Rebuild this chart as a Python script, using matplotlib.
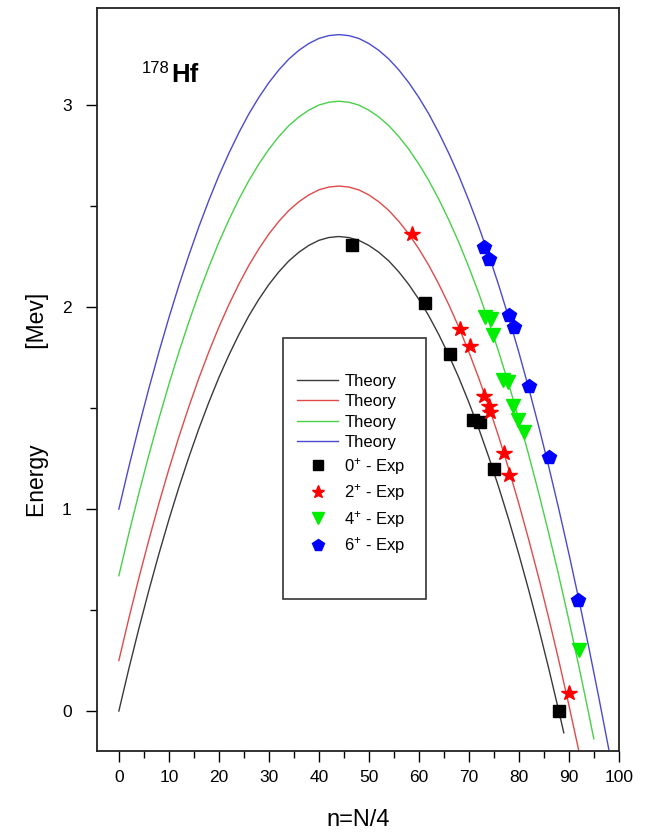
import matplotlib
matplotlib.use("Agg")
import matplotlib.pyplot as plt
from matplotlib.patches import Rectangle
from matplotlib.ticker import MultipleLocator

plt.rcParams['font.family'] = ['Liberation Sans', 'DejaVu Sans']
plt.rcParams['mathtext.fontset'] = 'custom'
plt.rcParams['mathtext.rm'] = 'Liberation Sans'
plt.rcParams['mathtext.it'] = 'Liberation Sans'

# Theory curves (band heads vs. n = N/4), sampled every 2 units of n
n_black = list(range(0, 90, 2)) + [89]
e_black = [0.000, 0.209, 0.408, 0.597, 0.777, 0.947, 1.107, 1.257, 1.398, 1.529, 1.651, 1.762,
           1.864, 1.957, 2.039, 2.112, 2.175, 2.229, 2.272, 2.306, 2.331, 2.345, 2.350,
           2.345, 2.331, 2.306, 2.272, 2.229, 2.175, 2.112, 2.039, 1.957, 1.864, 1.762,
           1.651, 1.529, 1.398, 1.257, 1.107, 0.947, 0.777, 0.597, 0.408, 0.209, 0.000, -0.108]

n_red = list(range(0, 94, 2))
e_red = [0.250, 0.459, 0.658, 0.847, 1.027, 1.197, 1.357, 1.507, 1.648, 1.779, 1.901, 2.012,
         2.114, 2.207, 2.289, 2.362, 2.425, 2.479, 2.522, 2.556, 2.581, 2.595, 2.600,
         2.595, 2.581, 2.556, 2.522, 2.479, 2.425, 2.362, 2.289, 2.207, 2.114, 2.012,
         1.901, 1.779, 1.648, 1.507, 1.357, 1.197, 1.027, 0.847, 0.658, 0.459, 0.250,
         0.031, -0.197]

n_green = list(range(0, 96, 2)) + [95]
e_green = [0.670, 0.879, 1.078, 1.267, 1.447, 1.617, 1.777, 1.927, 2.068, 2.199, 2.321, 2.432,
           2.534, 2.627, 2.709, 2.782, 2.845, 2.899, 2.942, 2.976, 3.001, 3.015, 3.020,
           3.015, 3.001, 2.976, 2.942, 2.899, 2.845, 2.782, 2.709, 2.627, 2.534, 2.432,
           2.321, 2.199, 2.068, 1.927, 1.777, 1.617, 1.447, 1.267, 1.078, 0.879, 0.670,
           0.451, 0.223, -0.015, -0.138]

n_blue = list(range(0, 98, 2)) + [98]
e_blue = [1.000, 1.209, 1.408, 1.597, 1.777, 1.947, 2.107, 2.257, 2.398, 2.529, 2.651, 2.762,
          2.864, 2.957, 3.039, 3.112, 3.175, 3.229, 3.272, 3.306, 3.331, 3.345, 3.350,
          3.345, 3.331, 3.306, 3.272, 3.229, 3.175, 3.112, 3.039, 2.957, 2.864, 2.762,
          2.651, 2.529, 2.398, 2.257, 2.107, 1.947, 1.777, 1.597, 1.408, 1.209, 1.000,
          0.781, 0.553, 0.315, 0.067, -0.190]

# Experimental levels
n_exp0 = [46.6, 61.2, 66.2, 70.9, 72.3, 75.1, 88.0]
e_exp0 = [2.31, 2.02, 1.77, 1.44, 1.43, 1.20, 0.00]

n_exp2 = [58.7, 68.2, 70.2, 73.0, 74.0, 74.3, 77.0, 78.1, 90.0]
e_exp2 = [2.36, 1.89, 1.81, 1.56, 1.51, 1.48, 1.28, 1.17, 0.09]

n_exp4 = [73.2, 74.5, 74.9, 76.9, 77.9, 78.9, 79.9, 81.1, 92.1]
e_exp4 = [1.95, 1.94, 1.86, 1.64, 1.63, 1.51, 1.44, 1.38, 0.30]

n_exp6 = [73.0, 74.1, 78.1, 79.0, 82.1, 86.1, 91.9]
e_exp6 = [2.30, 2.24, 1.96, 1.90, 1.61, 1.26, 0.55]

x_ticks = [0, 10, 20, 30, 40, 50, 60, 70, 80, 90, 100]
y_ticks = [0, 1, 2, 3]

fig = plt.figure(figsize=(6.5, 8.36), dpi=100)
ax = fig.add_axes([0.149, 0.1017, 0.803, 0.8883])

ax.plot(n_black, e_black, color='#3a3a3a', lw=1.0, label='Theory')
ax.plot(n_red, e_red, color='#e04a4a', lw=1.0, label='Theory')
ax.plot(n_green, e_green, color='#48d048', lw=1.0, label='Theory')
ax.plot(n_blue, e_blue, color='#4a4ad0', lw=1.0, label='Theory')

ax.plot(n_exp0, e_exp0, ls='none', marker='s', ms=8, color='black', label='0$^{+}$ - Exp')
ax.plot(n_exp2, e_exp2, ls='none', marker='*', ms=11.5, color='#ff0000', label='2$^{+}$ - Exp')
ax.plot(n_exp4, e_exp4, ls='none', marker='v', ms=10, color='#00ee00', label='4$^{+}$ - Exp')
ax.plot(n_exp6, e_exp6, ls='none', marker='p', ms=10, color='#0000ff', label='6$^{+}$ - Exp')

ax.set_xlim(-4.4, 100)
ax.set_ylim(-0.198, 3.48)
ax.set_xticks(x_ticks)
ax.set_yticks(y_ticks)
ax.xaxis.set_minor_locator(MultipleLocator(5))
ax.yaxis.set_minor_locator(MultipleLocator(0.5))
ax.tick_params(which='major', direction='out', length=8, width=1.0, labelsize=12.5, pad=6)
ax.tick_params(which='minor', direction='out', length=5, width=1.0)
ax.tick_params(axis='y', which='major', pad=10)
for s in ax.spines.values():
    s.set_linewidth(1.3)
    s.set_color('#222222')

ax.set_xlabel('n=N/4', fontsize=17, labelpad=17)
ax.set_ylabel('Energy' + ' ' * 15 + '[Mev]', fontsize=16.5)
ax.yaxis.set_label_coords(-0.092, 0.466)

ax.text(0.086, 0.9125, '178', transform=ax.transAxes, fontsize=12, ha='left', va='baseline')
ax.text(0.1418, 0.9004, 'Hf', transform=ax.transAxes, fontsize=18.5, fontweight='bold',
        ha='left', va='baseline')

ax.add_patch(Rectangle((0.356, 0.2046), 0.274, 0.351, transform=ax.transAxes,
                       fill=False, edgecolor='#333333', lw=1.2, zorder=3))
ax.legend(loc='upper left', bbox_to_anchor=(0.383, 0.508), frameon=False, borderpad=0,
          borderaxespad=0, fontsize=12, handlelength=2.5, handletextpad=0.35,
          labelspacing=0.33, markerscale=0.85)

fig.savefig('out.png', dpi=100)
